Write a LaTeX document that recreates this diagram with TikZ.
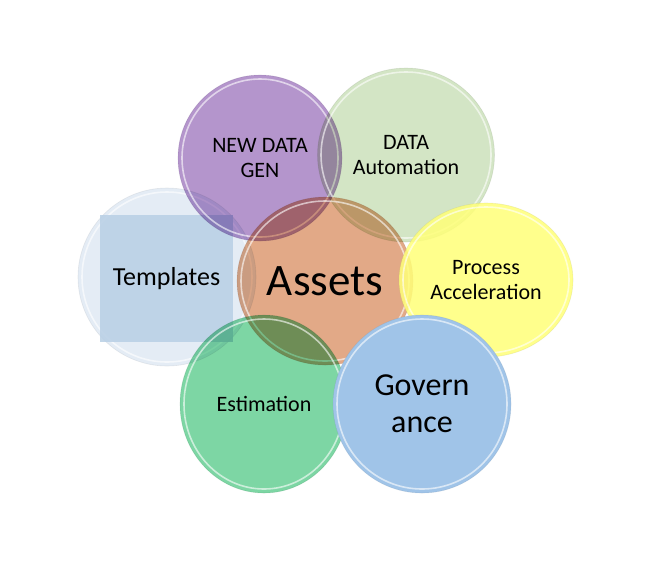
\documentclass[tikz,border=0pt]{standalone}
\usepackage{fontspec}
\setmainfont{Carlito}
\usetikzlibrary{shapes.geometric}
\definecolor{tmplC}{HTML}{DCE6F2}
\definecolor{sqC}{HTML}{B8CFE5}
\definecolor{genC}{HTML}{B495CC}
\definecolor{autoC}{HTML}{D3E5C5}
\definecolor{assetC}{HTML}{E2A987}
\definecolor{procC}{HTML}{FFFF78}
\definecolor{estC}{HTML}{7DD6A4}
\definecolor{govC}{HTML}{A0C4E8}
\begin{document}
\begin{tikzpicture}[x=1pt,y=-1pt,
  bubble/.style={ellipse, fill=#1, draw=#1!70!black,
    draw opacity=0.2, line width=0.6pt, align=center,
    inner sep=0pt, text=black},
  rim/.style={draw=white, opacity=0.6, line width=1.6pt},
  small/.style={font=\fontsize{22}{25}\selectfont},
  tinted/.style={blend mode=multiply},
]
\useasboundingbox[fill=white] (0,0) rectangle (660,566);

% Templates bubble with its inner panel
\node[bubble=tmplC, fill opacity=0.75, text opacity=1, minimum width=178pt, minimum height=178pt] (tmpl) at (167,277) {};
\draw[rim] (tmpl.center) ellipse (85 and 85);
\node[rectangle, fill=sqC, fill opacity=0.85, text opacity=1, minimum width=133pt, minimum height=127pt,
  font=\fontsize{26}{30}\selectfont] (sq) at (166.5,278.5) {Templates};

% upper pair
\begin{scope}[tinted]
\node[bubble=genC, minimum width=164pt, minimum height=166pt, small] (gen) at (260,158) {NEW DATA\\GEN};
\end{scope}
\draw[rim] (gen.center) ellipse (78 and 79);
\begin{scope}[tinted]
\node[bubble=autoC, minimum width=177pt, minimum height=174pt, small] (auto) at (406,155) {DATA\\Automation};
\end{scope}
\draw[rim] (auto.center) ellipse (85 and 83);

% centre
\begin{scope}[tinted]
\node[bubble=assetC, minimum width=176pt, minimum height=168pt,
  font=\fontsize{45}{50}\selectfont] (assets) at (325,281) {Assets};
\end{scope}
\draw[rim] (assets.center) ellipse (84 and 80);

% right
\node[bubble=procC, fill opacity=0.85, text opacity=1, minimum width=174pt, minimum height=154pt, small] (proc) at (486,280) {Process\\Acceleration};
\draw[rim] (proc.center) ellipse (83 and 73);

% lower pair
\begin{scope}[tinted]
\node[bubble=estC, minimum width=168pt, minimum height=178pt, small] (est) at (264,404) {Estimation};
\end{scope}
\draw[rim] (est.center) ellipse (80 and 85);
\node[bubble=govC, minimum width=178pt, minimum height=178pt,
  font=\fontsize{32}{37}\selectfont] (gov) at (422,404) {Govern\\ance};
\draw[rim] (gov.center) ellipse (85 and 85);
\end{tikzpicture}
\end{document}
